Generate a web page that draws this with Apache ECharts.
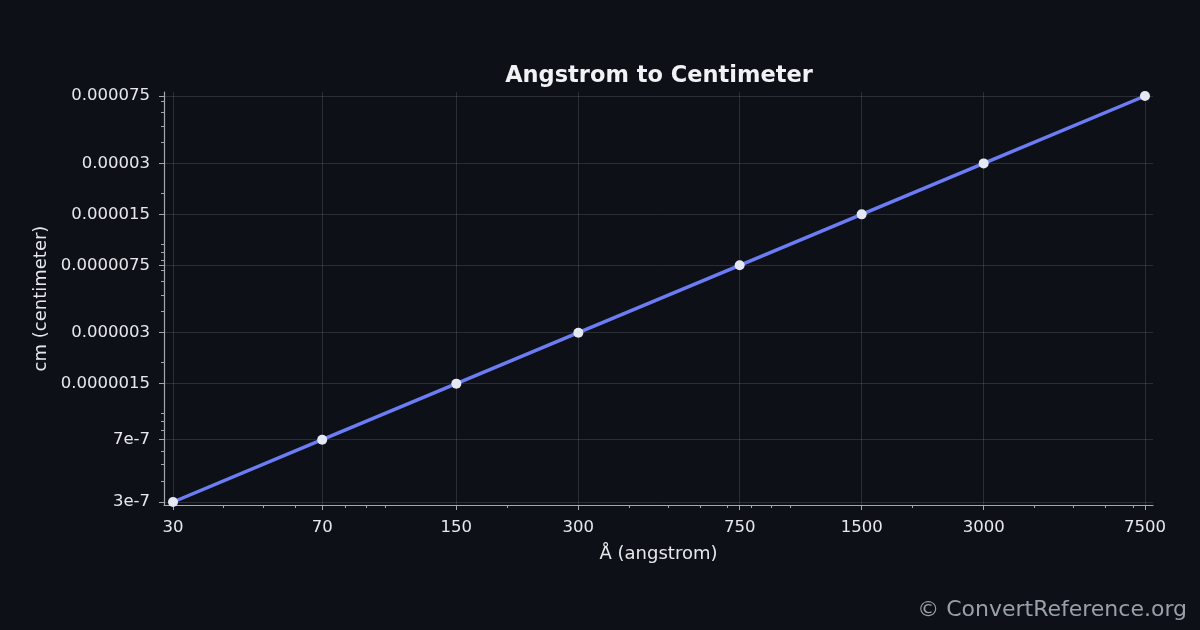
<!DOCTYPE html>
<html>
<head>
<meta charset="utf-8">
<script src="https://cdn.jsdelivr.net/npm/echarts@6/dist/echarts.min.js"></script>
<style>
  html, body { margin: 0; padding: 0; background: #0d1117; }
  #chart { width: 1200px; height: 630px; }
</style>
</head>
<body>
<div id="chart"></div>
<script>
// angstrom values and their centimeter equivalents
var angstrom = [30, 70, 150, 300, 750, 1500, 3000, 7500];
var centimeter = [3e-7, 7e-7, 1.5e-6, 3e-6, 7.5e-6, 1.5e-5, 3e-5, 7.5e-5];

// tick labels as printed on the reference
var xTicks = [30, 70, 150, 300, 750, 1500, 3000, 7500];
var xLabels = ['30', '70', '150', '300', '750', '1500', '3000', '7500'];
var yTicks = [3e-7, 7e-7, 1.5e-6, 3e-6, 7.5e-6, 1.5e-5, 3e-5, 7.5e-5];
var yLabels = ['3e-7', '7e-7', '0.0000015', '0.000003', '0.0000075', '0.000015', '0.00003', '0.000075'];

// minor log ticks
var xMinor = [40, 50, 60, 70, 80, 90, 100, 200, 300, 400, 500, 600, 700, 800, 900,
  1000, 2000, 3000, 4000, 5000, 6000, 7000];
var yMinor = [3e-7, 4e-7, 5e-7, 6e-7, 7e-7, 8e-7, 9e-7, 1e-6, 2e-6, 3e-6, 4e-6, 5e-6,
  6e-6, 7e-6, 8e-6, 9e-6, 1e-5, 2e-5, 3e-5, 4e-5, 5e-5, 6e-5, 7e-5];

var xMin = 28.5, xMax = 7850;
var yMin = 2.88e-7, yMax = 7.92e-5;

var axisColor = '#a3a7ae';
var textColor = '#e6e8eb';
var font = 'DejaVu Sans';

function pick(ticks, labels, v) {
  for (var i = 0; i < ticks.length; i++) {
    if (Math.abs(ticks[i] - v) / ticks[i] < 1e-6) return labels[i];
  }
  return '';
}

var data = [];
for (var i = 0; i < angstrom.length; i++) {
  data.push([angstrom[i], centimeter[i]]);
}

var option = {
  backgroundColor: '#0d1117',
  animation: false,
  textStyle: { fontFamily: font },
  title: {
    text: 'Angstrom to Centimeter',
    left: 654,
    textAlign: 'center',
    top: 60,
    textStyle: { color: '#f0f2f4', fontSize: 22.5, fontWeight: 'bold', fontFamily: font }
  },
  grid: { left: 164, right: 47, top: 92, bottom: 125 },
  xAxis: [
    {
      type: 'log',
      logBase: 10,
      min: xMin,
      max: xMax,
      position: 'bottom',
      name: 'Å (angstrom)',
      nameLocation: 'middle',
      nameGap: 40,
      nameTextStyle: { color: textColor, fontSize: 18, fontFamily: font },
      axisLine: { lineStyle: { color: axisColor, width: 1.2 } },
      axisTick: { show: true, length: 5, customValues: xTicks, lineStyle: { color: axisColor } },
      axisLabel: {
        customValues: xTicks,
        color: textColor,
        fontSize: 16.5,
        margin: 14,
        formatter: function (v) { return pick(xTicks, xLabels, v); }
      },
      splitLine: { show: true, lineStyle: { color: 'rgba(255,255,255,0.12)', width: 1 } }
    },
    {
      type: 'log',
      logBase: 10,
      min: xMin,
      max: xMax,
      position: 'bottom',
      offset: 0,
      axisLine: { show: false },
      axisTick: { show: true, length: 3, customValues: xMinor, lineStyle: { color: axisColor } },
      axisLabel: { show: false },
      splitLine: { show: false }
    }
  ],
  yAxis: [
    {
      type: 'log',
      logBase: 10,
      min: yMin,
      max: yMax,
      position: 'left',
      name: 'cm (centimeter)',
      nameLocation: 'middle',
      nameGap: 110,
      nameTextStyle: { color: textColor, fontSize: 18, fontFamily: font },
      axisLine: { show: true, lineStyle: { color: axisColor, width: 1.2 } },
      axisTick: { show: true, length: 5, customValues: yTicks, lineStyle: { color: axisColor } },
      axisLabel: {
        customValues: yTicks,
        color: textColor,
        fontSize: 16.5,
        margin: 14,
        formatter: function (v) { return pick(yTicks, yLabels, v); }
      },
      splitLine: { show: true, lineStyle: { color: 'rgba(255,255,255,0.12)', width: 1 } }
    },
    {
      type: 'log',
      logBase: 10,
      min: yMin,
      max: yMax,
      position: 'left',
      offset: 0,
      axisLine: { show: false },
      axisTick: { show: true, length: 3, customValues: yMinor, lineStyle: { color: axisColor } },
      axisLabel: { show: false },
      splitLine: { show: false }
    }
  ],
  series: [
    {
      type: 'line',
      xAxisIndex: 0,
      yAxisIndex: 0,
      data: data,
      symbol: 'circle',
      symbolSize: 10,
      lineStyle: { color: '#6c7cf4', width: 3.5 },
      itemStyle: { color: '#e4e8f4', borderWidth: 0 },
      z: 5
    }
  ],
  graphic: [
    {
      type: 'text',
      right: 13,
      bottom: 9,
      style: {
        text: '© ConvertReference.org',
        fill: '#9aa0a8',
        font: '22px "DejaVu Sans"'
      }
    }
  ]
};

var myChart = echarts.init(document.getElementById('chart'));
myChart.setOption(option);
</script>
</body>
</html>
